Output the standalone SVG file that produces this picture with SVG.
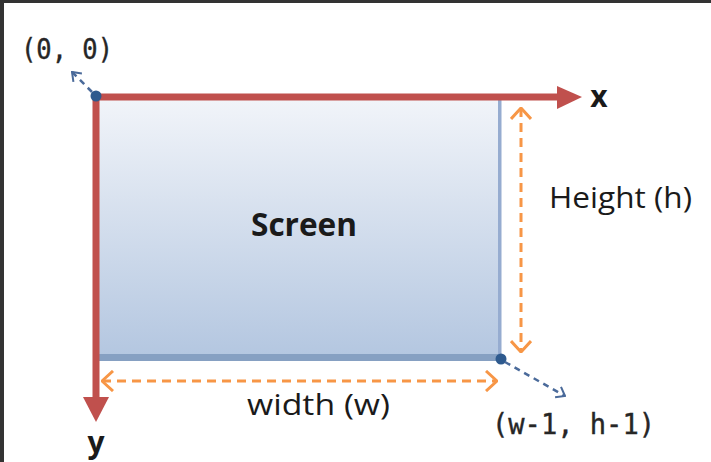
<svg xmlns="http://www.w3.org/2000/svg" width="711" height="462" viewBox="0 0 711 462">
  <style>
    .axis { stroke: #c0504d; stroke-width: 7; fill: none; }
    .axis-head { fill: #c0504d; }
    .dim { stroke: #f79646; stroke-width: 3; stroke-dasharray: 9 6; fill: none; }
    .pointer { stroke: #4a6a9a; stroke-width: 2.5; stroke-dasharray: 6 5; fill: none; }
    .sans { font-family: "Open Sans", "Liberation Sans", sans-serif; fill: #1a1a1a; }
    .mono { font-family: "DejaVu Sans Mono", "Liberation Mono", monospace; fill: #262626; stroke: #262626; stroke-width: 0.4; }
    .dot { fill: #2e5a8e; }
  </style>
  <defs>
    <linearGradient id="screenFill" x1="0" y1="0" x2="0" y2="1">
      <stop offset="0" stop-color="#f1f4f9"/>
      <stop offset="1" stop-color="#b3c6e0"/>
    </linearGradient>
    <marker id="chevOrange" viewBox="0 0 13 22" refX="12" refY="11" markerWidth="13" markerHeight="22" markerUnits="userSpaceOnUse" orient="auto-start-reverse">
      <path d="M1 1 L12 11 L1 21" fill="none" stroke="#f79646" stroke-width="3"/>
    </marker>
    <marker id="chevBlue" viewBox="0 0 10 14" refX="9" refY="7" markerWidth="10" markerHeight="14" markerUnits="userSpaceOnUse" orient="auto">
      <path d="M1 1 L9 7 L1 13" fill="none" stroke="#4a6a9a" stroke-width="2"/>
    </marker>
  </defs>

  <!-- frame edges -->
  <rect x="0" y="0" width="711" height="462" fill="#ffffff"/>
  <rect x="0" y="0" width="711" height="3" fill="#333333"/>
  <rect x="0" y="0" width="4" height="462" fill="#333333"/>

  <!-- screen area -->
  <g id="screen">
    <rect x="99" y="100" width="401" height="259" fill="url(#screenFill)"/>
    <rect x="99" y="354" width="403" height="7" fill="#86a0c2"/>
    <rect x="498" y="100" width="3.5" height="260" fill="#96acd0"/>
    <text class="sans" x="304" y="236" font-size="33" font-weight="700" text-anchor="middle" textLength="106" lengthAdjust="spacingAndGlyphs">Screen</text>
  </g>

  <!-- coordinate axes -->
  <g id="x-axis">
    <line class="axis" x1="96" y1="97" x2="560" y2="97"/>
    <path class="axis-head" d="M557 86 L582 97 L557 109 Z"/>
    <text class="sans" x="599" y="107" font-size="30" font-weight="700" text-anchor="middle">x</text>
  </g>
  <g id="y-axis">
    <line class="axis" x1="96" y1="94" x2="96" y2="400"/>
    <path class="axis-head" d="M83 397 L96 422 L109 397 Z"/>
    <text class="sans" x="96" y="453" font-size="30" font-weight="700" text-anchor="middle">y</text>
  </g>

  <!-- corner points -->
  <g id="origin">
    <circle class="dot" cx="96" cy="96" r="5.5"/>
    <text class="mono" x="21" y="59" font-size="28" textLength="92" lengthAdjust="spacingAndGlyphs">(0, 0)</text>
  </g>
  <g id="far-corner">
    <circle class="dot" cx="501" cy="359" r="5.5"/>
    <text class="mono" x="492" y="434" font-size="28" textLength="163" lengthAdjust="spacingAndGlyphs">(w-1, h-1)</text>
  </g>

  <!-- dimension labels -->
  <g id="height-label">
    <text class="sans" x="549" y="208" font-size="30" textLength="143" lengthAdjust="spacingAndGlyphs">Height (h)</text>
  </g>
  <g id="width-label">
    <text class="sans" x="247" y="415" font-size="30" textLength="143" lengthAdjust="spacingAndGlyphs">width (w)</text>
  </g>

  <!-- connectors -->
  <g id="connectors">
    <line class="pointer" x1="92" y1="92" x2="72" y2="72" marker-end="url(#chevBlue)"/>
    <line class="pointer" x1="505" y1="362" x2="565" y2="396" marker-end="url(#chevBlue)"/>
    <line class="dim" x1="521" y1="108" x2="521" y2="352" marker-start="url(#chevOrange)" marker-end="url(#chevOrange)"/>
    <line class="dim" x1="102" y1="381" x2="497" y2="381" marker-start="url(#chevOrange)" marker-end="url(#chevOrange)"/>
  </g>
</svg>
